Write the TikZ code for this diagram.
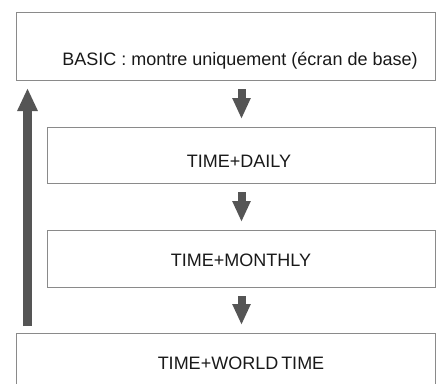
\documentclass[tikz,border=0pt]{standalone}
\usepackage{fontspec}
\setmainfont{Liberation Sans}
\usepackage{xcolor}
\usetikzlibrary{arrows.meta}

\definecolor{boxgray}{HTML}{8A8A8A}
\definecolor{arrowgray}{HTML}{555555}

\tikzset{
    modebox/.style={draw=boxgray, line width=1pt, minimum width=419pt, anchor=north west, inner sep=0pt},
    modetext/.style={anchor=base, text=black!90, font=\fontsize{18}{21}\selectfont},
    nextarrow/.style={draw=arrowgray, line width=8pt, shorten <=8pt, shorten >=8pt,
        -{Triangle[width=17pt,length=21pt]}},
    backarrow/.style={draw=arrowgray, line width=9pt, shorten <=7pt, shorten >=7pt,
        -{Triangle[width=19pt,length=23pt]}}
}

\begin{document}
\begin{tikzpicture}[x=1pt,y=-1pt]
                \useasboundingbox (0,0) rectangle (441,383);
                \clip (0,0) rectangle (441,383);
                % boxes
                \node[modebox, minimum height=68pt] (basic) at (16,12) {};
                \node[modebox, minimum width=388pt, minimum height=56pt] (daily) at (47,127) {};
                \node[modebox, minimum width=388pt, minimum height=57pt] (monthly) at (47,230) {};
                \node[modebox, minimum height=70pt] (world) at (16,333) {};
                % texts
                \node[modetext] (basictext) at (240,65) {BASIC : montre uniquement (écran de base)};
                \node[modetext] (dailytext) at (239,167) {TIME+DAILY};
                \node[modetext] (monthlytext) at (241,266) {TIME+MONTHLY};
                \node[modetext] (worldtext) at (241,369) {TIME+WORLD\,TIME};
                % arrows
                \draw[nextarrow] (basic.south -| daily.north) -- (daily.north);
                \draw[nextarrow] (daily.south) -- (monthly.north);
                \draw[nextarrow] (monthly.south) -- (monthly.south |- world.north);
                \coordinate (backstart) at ([xshift=11.5pt]world.north west);
                \draw[backarrow] (backstart) -- (backstart |- basic.south);
            \end{tikzpicture}
\end{document}
